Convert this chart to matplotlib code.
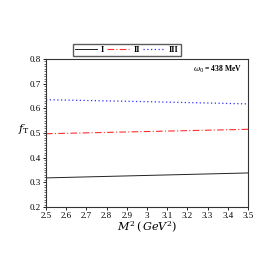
import numpy as np
import matplotlib.pyplot as plt
from matplotlib.ticker import MultipleLocator

# Borel parameter M^2 (GeV^2) and f_T for the three curves
m2 = [2.5, 3.0, 3.5]
f_i = [0.318, 0.328, 0.338]
f_ii = [0.497, 0.506, 0.515]
f_iii = [0.635, 0.627, 0.618]
labels = ['I', 'II', 'III']

plt.rcParams['font.family'] = ['Liberation Serif', 'DejaVu Serif']
plt.rcParams['mathtext.fontset'] = 'dejavuserif'

fig = plt.figure(figsize=(2.73, 2.73), dpi=100)
ax = fig.add_axes([46 / 273, 1 - 207 / 273, 202 / 273, 148 / 273])

ax.plot(m2, f_i, color='#222222', linewidth=0.7, label=labels[0])
ax.plot(m2, f_ii, color='#ff3030', linestyle=(0, (6, 2, 1, 2)), linewidth=0.8, label=labels[1])
ax.plot(m2, f_iii, color='#3030ff', linestyle=(0, (1, 2)), linewidth=0.9, label=labels[2])

ax.set_xlim(2.5, 3.5)
ax.set_ylim(0.2, 0.8)
ax.yaxis.set_major_locator(MultipleLocator(0.1))
ax.yaxis.set_minor_locator(MultipleLocator(0.01))
ax.set_xticks(np.arange(2.5, 3.51, 0.1))
ax.set_xticklabels(['2.5', '2.6', '2.7', '2.8', '2.9', '3', '3.1', '3.2', '3.3', '3.4', '3.5'])
ax.tick_params(axis='both', which='major', labelsize=6.5, length=2.5, width=0.6, pad=1)
ax.tick_params(axis='y', which='minor', length=1.5, width=0.4)

for spine in ax.spines.values():
    spine.set_linewidth(0.8)
    spine.set_color('#333333')

ax.set_xlabel(r'$M^2\,(\,GeV^2)$', fontsize=8, labelpad=0)
ax.set_ylabel(r'$f_{\rm T}$', fontsize=8, rotation=0, labelpad=8)
ax.yaxis.set_label_coords(-0.11, 0.48)

ax.text(0.97, 0.97, r'$\omega_0$ = 438 MeV', transform=ax.transAxes,
        ha='right', va='top', fontsize=5.5, fontweight='bold')

ax.legend(loc='lower center', bbox_to_anchor=(0.4, 1.02), ncol=3,
          prop={'size': 6, 'weight': 'bold'},
          frameon=True, fancybox=False, edgecolor='#333333', handlelength=2.6,
          handletextpad=0.5, columnspacing=0.4, borderpad=0.25, borderaxespad=0)

fig.savefig('out.png', dpi=100)
